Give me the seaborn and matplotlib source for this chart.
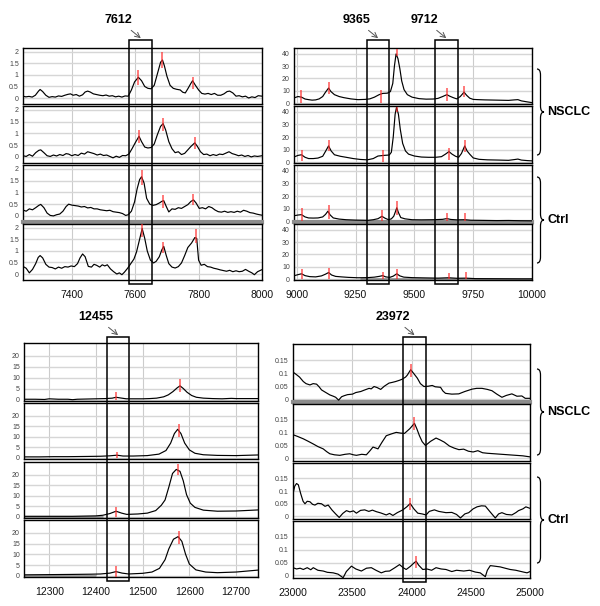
import matplotlib
matplotlib.use("Agg")
import matplotlib.pyplot as plt
import matplotlib.transforms as mtransforms
from matplotlib.patches import Rectangle, PathPatch
from matplotlib.path import Path
import seaborn as sns

sns.set_style("white")
plt.rcParams["font.family"] = ["Liberation Sans", "DejaVu Sans"]
plt.rcParams["text.color"] = "black"

# ---------------- panel A : m/z 7250-8000 ----------------
a1_mz = [7246, 7255, 7265, 7275, 7285, 7295, 7300, 7308, 7318, 7328, 7338, 7348, 7358, 7368, 7378, 7388,
         7396, 7404, 7414, 7424, 7434, 7442, 7450, 7458, 7468, 7478, 7488, 7498, 7508, 7518, 7528, 7538,
         7548, 7558, 7568, 7578, 7588, 7598, 7610, 7620, 7630, 7640, 7650, 7660, 7670, 7680, 7686, 7692,
         7700, 7710, 7720, 7730, 7742, 7750, 7758, 7766, 7775, 7781, 7790, 7800, 7810, 7820, 7830, 7840,
         7850, 7860, 7870, 7880, 7890, 7898, 7908, 7918, 7928, 7938, 7948, 7958, 7968, 7978, 7988, 8000]
a1_int = [0.08, 0.05, 0.07, 0.04, 0.12, 0.30, 0.37, 0.28, 0.12, 0.03, 0.06, 0.04, 0.09, 0.07, 0.12, 0.16,
          0.18, 0.12, 0.15, 0.08, 0.14, 0.26, 0.30, 0.26, 0.18, 0.15, 0.12, 0.10, 0.13, 0.08, 0.10, 0.05,
          0.08, 0.04, 0.09, 0.08, 0.35, 0.70, 0.90, 0.75, 0.50, 0.42, 0.40, 0.55, 1.05, 1.55, 1.65, 1.40,
          0.95, 0.55, 0.42, 0.38, 0.35, 0.25, 0.22, 0.40, 0.62, 0.75, 0.55, 0.35, 0.20, 0.17, 0.20, 0.15,
          0.20, 0.12, 0.12, 0.18, 0.28, 0.30, 0.22, 0.08, 0.10, 0.05, 0.08, 0.00, 0.05, 0.02, 0.10, 0.08]
a2_mz = [7246, 7256, 7266, 7276, 7286, 7296, 7302, 7312, 7322, 7332, 7342, 7352, 7362, 7372, 7382, 7390,
         7400, 7410, 7420, 7430, 7440, 7450, 7460, 7470, 7480, 7490, 7500, 7510, 7520, 7530, 7540, 7550,
         7560, 7570, 7580, 7590, 7600, 7612, 7620, 7630, 7640, 7650, 7660, 7670, 7680, 7688, 7696, 7706,
         7716, 7726, 7736, 7746, 7756, 7766, 7776, 7788, 7796, 7806, 7816, 7826, 7836, 7846, 7856, 7866,
         7876, 7886, 7896, 7906, 7916, 7926, 7936, 7946, 7956, 7966, 7976, 7986, 8000]
a2_int = [0.05, 0.02, 0.10, 0.03, 0.18, 0.28, 0.30, 0.18, 0.05, 0.02, 0.08, 0.04, 0.10, 0.06, 0.14, 0.12,
          0.05, 0.10, 0.06, 0.16, 0.12, 0.22, 0.18, 0.14, 0.08, 0.12, 0.06, 0.08, 0.02, -0.04, 0.03, -0.02,
          0.06, 0.05, 0.12, 0.35, 0.60, 0.88, 0.65, 0.42, 0.38, 0.40, 0.55, 0.95, 1.30, 1.42, 1.15, 0.65,
          0.35, 0.18, 0.22, 0.10, 0.15, 0.30, 0.45, 0.60, 0.45, 0.22, 0.10, 0.12, 0.05, 0.10, 0.06, 0.12,
          0.10, 0.16, 0.22, 0.14, 0.10, 0.05, 0.08, 0.02, 0.06, 0.00, 0.04, 0.02, 0.05]
a3_mz = [7246, 7256, 7266, 7276, 7286, 7296, 7302, 7312, 7322, 7332, 7342, 7352, 7362, 7372, 7382, 7390,
         7400, 7410, 7420, 7430, 7440, 7450, 7460, 7470, 7480, 7490, 7500, 7510, 7520, 7530, 7540, 7550,
         7560, 7570, 7578, 7588, 7598, 7606, 7614, 7620, 7628, 7636, 7646, 7656, 7666, 7676, 7684, 7690,
         7698, 7706, 7716, 7726, 7736, 7746, 7756, 7766, 7776, 7784, 7792, 7802, 7812, 7822, 7832, 7842,
         7852, 7862, 7872, 7882, 7892, 7902, 7912, 7922, 7932, 7942, 7952, 7962, 7972, 7982, 7992, 8000]
a3_int = [0.25, 0.20, 0.30, 0.26, 0.35, 0.45, 0.49, 0.35, 0.12, 0.02, 0.00, 0.05, 0.08, 0.20, 0.40, 0.50,
          0.46, 0.44, 0.42, 0.38, 0.40, 0.34, 0.36, 0.30, 0.30, 0.26, 0.24, 0.22, 0.24, 0.18, 0.16, 0.14,
          0.10, 0.02, 0.05, 0.20, 0.60, 1.15, 1.55, 1.67, 1.40, 0.75, 0.50, 0.45, 0.48, 0.55, 0.62, 0.65,
          0.40, 0.17, 0.30, 0.28, 0.35, 0.32, 0.40, 0.48, 0.62, 0.68, 0.55, 0.32, 0.35, 0.30, 0.40, 0.35,
          0.25, 0.18, 0.16, 0.20, 0.15, 0.18, 0.15, 0.20, 0.16, 0.24, 0.20, 0.14, 0.12, 0.08, 0.05, 0.03]
a4_mz = [7246, 7256, 7266, 7276, 7286, 7294, 7300, 7308, 7318, 7328, 7338, 7348, 7358, 7368, 7378, 7388,
         7398, 7408, 7418, 7426, 7434, 7442, 7452, 7462, 7470, 7478, 7488, 7496, 7504, 7512, 7522, 7532,
         7542, 7550, 7558, 7566, 7576, 7586, 7596, 7604, 7612, 7622, 7630, 7638, 7648, 7658, 7666, 7676,
         7684, 7690, 7698, 7706, 7716, 7726, 7736, 7746, 7756, 7766, 7778, 7788, 7794, 7800, 7808, 7818,
         7828, 7838, 7848, 7858, 7868, 7878, 7888, 7898, 7908, 7918, 7928, 7938, 7948, 7958, 7968, 7976,
         7986, 8000]
a4_int = [0.33, 0.25, 0.05, 0.20, 0.45, 0.72, 0.80, 0.70, 0.42, 0.30, 0.28, 0.22, 0.30, 0.25, 0.32, 0.30,
          0.35, 0.32, 0.45, 0.70, 0.87, 0.75, 0.33, 0.30, 0.42, 0.38, 0.30, 0.40, 0.35, 0.40, 0.22, 0.10,
          0.00, 0.05, -0.03, 0.08, 0.25, 0.45, 0.65, 0.95, 1.40, 1.97, 1.55, 1.00, 0.60, 0.48, 0.55, 0.75,
          1.05, 1.20, 0.80, 0.45, 0.30, 0.26, 0.32, 0.48, 0.80, 1.15, 1.35, 1.58, 1.55, 0.60, 0.38, 0.42,
          0.32, 0.30, 0.25, 0.22, 0.18, 0.15, 0.12, 0.16, 0.10, 0.14, 0.10, 0.12, 0.20, 0.12, 0.05, -0.03,
          0.10, 0.19]
a_peaks = [[(7610, 0.55, 1.2), (7685, 1.3, 2.0), (7781, 0.4, 0.9)],
           [(7612, 0.6, 1.15), (7688, 1.1, 1.65), (7790, 0.35, 0.85)],
           [(7622, 1.3, 1.95), (7689, 0.35, 0.9), (7783, 0.45, 0.95)],
           [(7622, 1.6, 2.2), (7689, 0.9, 1.4), (7792, 1.35, 1.95)]]
a_boxes = [(7581, 7654, "7612")]

# ---------------- panel B : m/z 9000-10000 ----------------
b1_mz = [8990, 9005, 9020, 9035, 9050, 9065, 9080, 9095, 9110, 9122, 9135, 9145, 9160, 9180, 9200, 9230,
         9260, 9290, 9310, 9330, 9350, 9365, 9385, 9398, 9408, 9415, 9422, 9430, 9438, 9446, 9456, 9470,
         9490, 9520, 9550, 9580, 9600, 9620, 9638, 9650, 9665, 9680, 9695, 9711, 9722, 9735, 9750, 9770,
         9800, 9850, 9900, 9925, 9940, 9955, 9980, 10000]
b1_int = [4.5, 5.5, 5.0, 3.5, 3.0, 2.6, 2.8, 3.6, 5.5, 9.0, 12.3, 9.5, 7.0, 5.5, 4.6, 3.6,
          3.0, 3.2, 3.6, 5.0, 7.0, 8.0, 8.2, 9.5, 16.0, 30.0, 39.7, 36.0, 28.0, 18.0, 11.0, 7.0,
          5.0, 3.8, 3.4, 3.5, 4.0, 5.5, 7.0, 5.8, 4.6, 3.6, 5.5, 9.0, 6.5, 4.2, 3.2, 3.0,
          2.8, 2.6, 2.4, 2.8, 3.0, 2.0, 1.2, 0.6]
b2_mz = [8990, 9005, 9020, 9035, 9050, 9070, 9090, 9110, 9123, 9135, 9146, 9160, 9185, 9210, 9240, 9270,
         9300, 9325, 9345, 9370, 9393, 9402, 9410, 9418, 9424, 9432, 9440, 9450, 9462, 9475, 9500, 9530,
         9560, 9590, 9615, 9632, 9647, 9660, 9675, 9688, 9700, 9714, 9724, 9735, 9750, 9775, 9810, 9860,
         9900, 9925, 9940, 9955, 9980, 10000]
b2_int = [4.4, 5.5, 6.0, 4.0, 3.0, 3.0, 3.4, 4.8, 9.0, 13.0, 9.0, 6.0, 4.8, 4.0, 3.0, 2.3,
          2.0, 3.0, 5.0, 5.5, 5.8, 8.0, 20.0, 38.0, 43.5, 38.0, 26.0, 15.0, 9.0, 6.5, 5.0, 4.2,
          4.0, 4.0, 4.5, 6.5, 8.5, 6.5, 4.8, 4.0, 7.0, 13.0, 9.0, 6.5, 3.5, 2.4, 2.0, 1.8,
          1.6, 2.2, 2.6, 1.8, 1.4, 1.2]
b3_mz = [8990, 9005, 9020, 9035, 9050, 9070, 9090, 9110, 9122, 9132, 9142, 9155, 9180, 9210, 9250, 9280,
         9302, 9325, 9345, 9362, 9375, 9390, 9402, 9412, 9420, 9425, 9432, 9442, 9460, 9490, 9530, 9580,
         9620, 9638, 9655, 9680, 9715, 9740, 9780, 9850, 9900, 9950, 10000]
b3_int = [4.5, 5.0, 5.3, 3.5, 2.7, 2.6, 2.7, 3.5, 5.5, 8.0, 5.0, 2.7, 1.8, 1.3, 1.0, 0.9,
          0.8, 1.3, 2.1, 4.0, 2.5, 1.3, 2.0, 4.0, 8.0, 10.7, 7.0, 3.0, 2.0, 1.3, 1.2, 1.3,
          1.6, 2.2, 1.5, 1.2, 1.3, 0.9, 0.8, 0.6, 0.7, 0.5, 0.4]
b4_mz = [8990, 9005, 9020, 9035, 9055, 9080, 9105, 9122, 9135, 9148, 9165, 9190, 9220, 9260, 9300, 9330,
         9350, 9365, 9378, 9395, 9410, 9425, 9438, 9455, 9490, 9540, 9600, 9645, 9680, 9718, 9760, 9850,
         9950, 10000]
b4_int = [3.0, 3.8, 4.5, 3.0, 2.2, 2.0, 2.8, 4.2, 5.5, 3.5, 2.4, 2.0, 1.6, 1.3, 1.4, 1.8,
          2.4, 3.0, 2.0, 1.6, 2.6, 4.5, 2.8, 1.8, 1.4, 1.2, 1.0, 1.3, 0.9, 1.0, 0.6, 0.5,
          0.4, 0.4]
b_peaks = [[(9019, 0, 11), (9135, 7.5, 17), (9360, 0, 11), (9424, 38, 44), (9640, 2, 12), (9712, 5, 14)],
           [(9020, 1, 10), (9135, 9, 18), (9365, 0, 10), (9425, 40, 44), (9648, 2, 11), (9714, 8, 18)],
           [(9020, 0, 10.5), (9135, 2, 13), (9362, 0, 9), (9427, 5, 16), (9638, 0, 7), (9715, 0, 7)],
           [(9020, 0, 8), (9135, 0, 9), (9367, 0, 6), (9428, 0, 8), (9645, 0, 5), (9718, 0, 6)]]
b_boxes = [(9299, 9392, "9365"), (9587, 9684, "9712")]

# ---------------- panel C : m/z 12250-12750 ----------------
c1_mz = [12246, 12270, 12290, 12300, 12320, 12340, 12350, 12360, 12380, 12400, 12420, 12435, 12443, 12452,
         12465, 12480, 12500, 12515, 12530, 12545, 12555, 12565, 12574, 12580, 12587, 12595, 12605, 12615,
         12630, 12650, 12670, 12690, 12700, 12720, 12747]
c1_int = [0.3, 0.3, 0.2, 0.5, 0.3, 0.3, 0.1, 0.3, 0.4, 0.5, 0.6, 0.8, 1.2, 0.9,
          0.5, 0.5, 0.5, 0.6, 0.8, 1.4, 2.3, 3.8, 5.5, 6.4, 5.2, 3.5, 2.0, 1.2,
          0.8, 0.6, 0.5, 0.7, 0.6, 0.6, 0.6]
c2_mz = [12246, 12280, 12310, 12340, 12380, 12410, 12430, 12445, 12458, 12480, 12510, 12535, 12550, 12560,
         12568, 12575, 12582, 12590, 12600, 12612, 12630, 12660, 12700, 12747]
c2_int = [0.5, 0.5, 0.6, 0.6, 0.7, 0.8, 1.0, 1.3, 0.9, 0.9, 1.1, 1.8, 3.5, 7.0,
          11.5, 13.5, 11.5, 7.0, 3.8, 2.2, 1.5, 1.2, 1.1, 1.4]
c3_mz = [12246, 12300, 12350, 12400, 12415, 12430, 12443, 12455, 12466, 12490, 12510, 12528, 12540, 12548,
         12556, 12564, 12572, 12580, 12587, 12594, 12602, 12612, 12630, 12660, 12700, 12747]
c3_int = [0.3, 0.3, 0.3, 0.5, 0.8, 1.6, 2.7, 1.8, 1.2, 1.4, 1.8, 3.0, 5.5, 8.0,
          14.0, 20.5, 22.4, 21.5, 17.0, 10.5, 6.5, 4.5, 3.2, 2.7, 2.8, 3.3]
c4_mz = [12246, 12300, 12350, 12390, 12410, 12430, 12443, 12456, 12470, 12500, 12520, 12536, 12548, 12556,
         12566, 12576, 12584, 12592, 12600, 12614, 12635, 12660, 12700, 12747]
c4_int = [0.5, 0.6, 0.7, 0.8, 0.9, 1.3, 2.0, 1.3, 0.9, 1.2, 1.8, 3.5, 7.5, 12.5,
          17.0, 18.2, 16.0, 10.0, 5.5, 2.8, 1.8, 1.5, 1.8, 2.7]
c_peaks = [[(12443, 0, 3.8), (12580, 3.7, 9.5)],
           [(12445, 0, 3), (12577, 10, 16)],
           [(12443, 0, 4.8), (12576, 19.7, 25)],
           [(12443, -0.5, 4.5), (12578, 15, 21)]]
c_boxes = [(12424, 12471, "12455")]

# ---------------- panel D : m/z 23000-25000 ----------------
d1_mz = [23000, 23030, 23055, 23087, 23110, 23143, 23170, 23199, 23220, 23241, 23270, 23311, 23340, 23360,
         23385, 23410, 23432, 23460, 23502, 23530, 23572, 23600, 23642, 23660, 23684, 23710, 23740, 23770,
         23810, 23840, 23866, 23900, 23922, 23950, 23964, 23993, 24020, 24049, 24075, 24105, 24140, 24175,
         24200, 24245, 24265, 24287, 24340, 24399, 24450, 24511, 24550, 24595, 24640, 24679, 24720, 24763,
         24800, 24847, 24890, 24931, 24960, 25000]
d1_int = [0.104, 0.094, 0.085, 0.068, 0.060, 0.055, 0.060, 0.058, 0.048, 0.036, 0.028, 0.017, 0.012, 0.008,
          -0.003, 0.010, 0.014, 0.018, 0.020, 0.026, 0.030, 0.035, 0.042, 0.040, 0.049, 0.045, 0.038, 0.050,
          0.062, 0.065, 0.068, 0.073, 0.077, 0.085, 0.092, 0.113, 0.098, 0.081, 0.060, 0.049, 0.050, 0.053,
          0.048, 0.046, 0.032, 0.023, 0.020, 0.021, 0.030, 0.039, 0.042, 0.042, 0.038, 0.033, 0.020, 0.008,
          0.015, 0.021, 0.012, 0.013, 0.004, 0.004]
d2_mz = [23000, 23040, 23087, 23130, 23171, 23210, 23255, 23285, 23311, 23350, 23395, 23440, 23479, 23510,
         23535, 23580, 23619, 23650, 23675, 23700, 23717, 23750, 23787, 23830, 23871, 23910, 23941, 23985,
         24025, 24045, 24067, 24090, 24118, 24160, 24207, 24240, 24277, 24320, 24360, 24400, 24440, 24480,
         24520, 24560, 24600, 24640, 24700, 24760, 24820, 24880, 24940, 25000]
d2_int = [0.092, 0.085, 0.076, 0.066, 0.056, 0.046, 0.037, 0.026, 0.018, 0.014, 0.012, 0.016, 0.018, 0.014,
          0.012, 0.016, 0.014, 0.030, 0.044, 0.040, 0.037, 0.062, 0.088, 0.095, 0.101, 0.098, 0.097, 0.115,
          0.136, 0.115, 0.088, 0.065, 0.050, 0.066, 0.079, 0.072, 0.063, 0.048, 0.040, 0.034, 0.036, 0.028,
          0.025, 0.030, 0.022, 0.020, 0.018, 0.016, 0.014, 0.012, 0.010, 0.006]
d3_mz = [23000, 23015, 23030, 23045, 23065, 23085, 23101, 23120, 23143, 23165, 23185, 23210, 23241, 23270,
         23297, 23330, 23360, 23390, 23420, 23451, 23480, 23510, 23535, 23570, 23605, 23640, 23670, 23703,
         23740, 23787, 23815, 23843, 23880, 23927, 23960, 23989, 24020, 24053, 24090, 24123, 24150, 24193,
         24230, 24291, 24340, 24380, 24413, 24450, 24483, 24520, 24553, 24590, 24623, 24660, 24707, 24735,
         24763, 24800, 24847, 24880, 24903, 24940, 24965, 25000]
d3_int = [0.090, 0.120, 0.130, 0.125, 0.090, 0.060, 0.050, 0.060, 0.058, 0.048, 0.045, 0.052, 0.050, 0.040,
          0.045, 0.025, 0.010, -0.004, 0.012, 0.023, 0.018, 0.022, 0.013, 0.024, 0.026, 0.020, 0.025, 0.019,
          0.014, 0.006, 0.012, 0.004, 0.015, 0.026, 0.038, 0.051, 0.030, 0.013, 0.010, 0.006, 0.020, 0.026,
          0.020, 0.015, 0.016, 0.008, -0.006, 0.010, 0.015, 0.030, 0.038, 0.042, 0.041, 0.020, -0.006, 0.010,
          0.015, 0.008, 0.006, 0.015, 0.023, 0.030, 0.038, 0.032]
d4_mz = [23000, 23030, 23060, 23087, 23120, 23150, 23171, 23210, 23255, 23290, 23339, 23380, 23423, 23450,
         23493, 23530, 23577, 23620, 23661, 23700, 23745, 23780, 23815, 23860, 23899, 23930, 23955, 23990,
         24020, 24039, 24060, 24095, 24130, 24170, 24207, 24250, 24291, 24340, 24380, 24441, 24490, 24539,
         24580, 24623, 24640, 24665, 24700, 24749, 24790, 24833, 24880, 24945, 24975, 25000]
d4_int = [0.030, 0.025, 0.028, 0.023, 0.030, 0.022, 0.030, 0.020, 0.017, 0.012, 0.010, 0.005, -0.009, 0.015,
          0.036, 0.025, 0.017, 0.028, 0.030, 0.020, 0.010, 0.016, 0.017, 0.030, 0.042, 0.030, 0.023, 0.035,
          0.048, 0.055, 0.040, 0.023, 0.025, 0.020, 0.030, 0.025, 0.023, 0.015, 0.020, 0.017, 0.020, 0.013,
          0.010, -0.005, 0.020, 0.038, 0.036, 0.033, 0.028, 0.023, 0.020, 0.013, 0.010, 0.015]
d_peaks = [[(23995, 0.086, 0.136)], [(24025, 0.11, 0.159)], [(23987, 0.026, 0.074)], [(24040, 0.03, 0.077)]]
d_boxes = [(23929, 24122, "23972")]

group_labels = ["NSCLC", "Ctrl"]

# layout in pixels of the 600x606 picture
W, H = 600, 606
panels = [
    dict(mz=[a1_mz, a2_mz, a3_mz, a4_mz], inten=[a1_int, a2_int, a3_int, a4_int], peaks=a_peaks,
         boxes=a_boxes, xlim=(7246, 8000), ylim=(-0.26, 2.17), xticks=[7400, 7600, 7800, 8000],
         yticks=[0, 0.5, 1, 1.5, 2], left=23, right=262,
         rows=[(48, 104), (106, 163), (165, 222), (224, 280)], box_y=(40, 284),
         gray_spine=[2], gray_runs=[], brace=None),
    dict(mz=[b1_mz, b2_mz, b3_mz, b4_mz], inten=[b1_int, b2_int, b3_int, b4_int], peaks=b_peaks,
         boxes=b_boxes, xlim=(8988, 10000), ylim=(-0.5, 44.5), xticks=[9000, 9250, 9500, 9750, 10000],
         yticks=[0, 10, 20, 30, 40], left=294, right=532,
         rows=[(48, 104), (106, 163), (165, 222), (224, 280)], box_y=(40, 284),
         gray_spine=[2], gray_runs=[(3, 9270, 10000), (2, 9750, 10000)],
         brace=[(69, 155), (177, 263)]),
    dict(mz=[c1_mz, c2_mz, c3_mz, c4_mz], inten=[c1_int, c2_int, c3_int, c4_int], peaks=c_peaks,
         boxes=c_boxes, xlim=(12246, 12747), ylim=(-0.5, 25.9), xticks=[12300, 12400, 12500, 12600, 12700],
         yticks=[0, 5, 10, 15, 20], left=24, right=258,
         rows=[(343, 401), (403, 459), (462, 518), (520, 577)], box_y=(337, 581),
         gray_spine=[], gray_runs=[(2, 12246, 12415), (3, 12246, 12400)], brace=None),
    dict(mz=[d1_mz, d2_mz, d3_mz, d4_mz], inten=[d1_int, d2_int, d3_int, d4_int], peaks=d_peaks,
         boxes=d_boxes, xlim=(23000, 25000), ylim=(-0.010, 0.211), xticks=[23000, 23500, 24000, 24500, 25000],
         yticks=[0, 0.05, 0.1, 0.15], left=293, right=530,
         rows=[(344, 402), (404, 461), (463, 519), (521, 578)], box_y=(337, 582),
         gray_spine=[0], gray_runs=[], brace=[(369, 455), (477, 563)]),
]


def fy(py):
    return 1 - py / H


def draw_brace(fig, x, y_top, y_bot, w=7):
    ym = (y_top + y_bot) / 2
    xm = x + w / 2
    pts = [(x, y_top), (xm, y_top), (xm, y_top + 6), (xm, ym - 6), (xm, ym), (x + w, ym),
           (xm, ym), (xm, ym + 6), (xm, y_bot - 6), (xm, y_bot), (x, y_bot)]
    codes = [Path.MOVETO, Path.CURVE3, Path.CURVE3, Path.LINETO, Path.CURVE3, Path.CURVE3,
             Path.CURVE3, Path.CURVE3, Path.LINETO, Path.CURVE3, Path.CURVE3]
    verts = [(px / W, fy(py)) for px, py in pts]
    fig.add_artist(PathPatch(Path(verts, codes), transform=fig.transFigure,
                             fill=False, lw=0.9, color="black"))


fig = plt.figure(figsize=(W / 100, H / 100), dpi=100)

for p in panels:
    axes = []
    for i, (top, bot) in enumerate(p["rows"]):
        ax = fig.add_axes([p["left"] / W, fy(bot), (p["right"] - p["left"]) / W, (bot - top) / H])
        axes.append(ax)
        sns.lineplot(x=p["mz"][i], y=p["inten"][i], ax=ax, color="black", linewidth=0.85,
                     sort=False, estimator=None, zorder=3)
        for mz, y0, y1 in p["peaks"][i]:
            ax.vlines(mz, y0, y1, color="#ff2a2a", lw=1.1, alpha=0.8, zorder=4)
        for row, x0, x1 in p["gray_runs"]:
            if row == i:
                ax.plot([x0, x1], [p["ylim"][0], p["ylim"][0]], color="#9a9a9a", lw=3.5,
                        solid_capstyle="butt", zorder=2)
        ax.set_xlim(*p["xlim"])
        ax.set_ylim(*p["ylim"])
        ax.set_yticks(p["yticks"])
        ax.set_yticklabels(["%g" % t for t in p["yticks"]])
        ax.set_xticks(p["xticks"])
        ax.grid(True, axis="y", color="#d6d6d6", lw=1.0)
        ax.grid(True, axis="x", color="#cccccc", lw=0.8)
        ax.set_axisbelow(True)
        ax.tick_params(axis="y", length=0, pad=3, labelsize=5, labelcolor="#444444")
        ax.tick_params(axis="x", length=0, pad=7, labelsize=7.5, labelcolor="#111111")
        if i < 3:
            ax.set_xticklabels([])
        ax.set_xlabel("")
        ax.set_ylabel("")
        for s in ax.spines.values():
            s.set_color("black")
            s.set_linewidth(1.0)
        if i in p["gray_spine"]:
            ax.spines["bottom"].set_color("#8c8c8c")
            ax.spines["bottom"].set_linewidth(3)

    # boxes spanning all four spectra, with labelled arrows
    trans = mtransforms.blended_transform_factory(axes[-1].transData, fig.transFigure)
    ytop, ybot = p["box_y"]
    for lo, hi, label in p["boxes"]:
        fig.add_artist(Rectangle((lo, fy(ybot)), hi - lo, (ybot - ytop) / H, transform=trans,
                                 fill=False, ec="black", lw=1.1, zorder=10))
        axes[0].annotate(label, xy=((lo + hi) / 2, fy(ytop) + 0.003), xycoords=trans,
                         xytext=(-22, 18), textcoords="offset pixels", ha="center", va="center",
                         fontsize=9, fontweight="bold", color="black", annotation_clip=False,
                         arrowprops=dict(arrowstyle="->", color="#555555", lw=0.7,
                                         shrinkA=1, shrinkB=0))

    if p["brace"]:
        for (y0, y1), name in zip(p["brace"], group_labels):
            draw_brace(fig, 537, y0, y1)
            fig.text(547 / W, fy((y0 + y1) / 2), name, ha="left", va="center",
                     fontsize=9, fontweight="bold", color="black")

fig.savefig("out.png", dpi=100)
